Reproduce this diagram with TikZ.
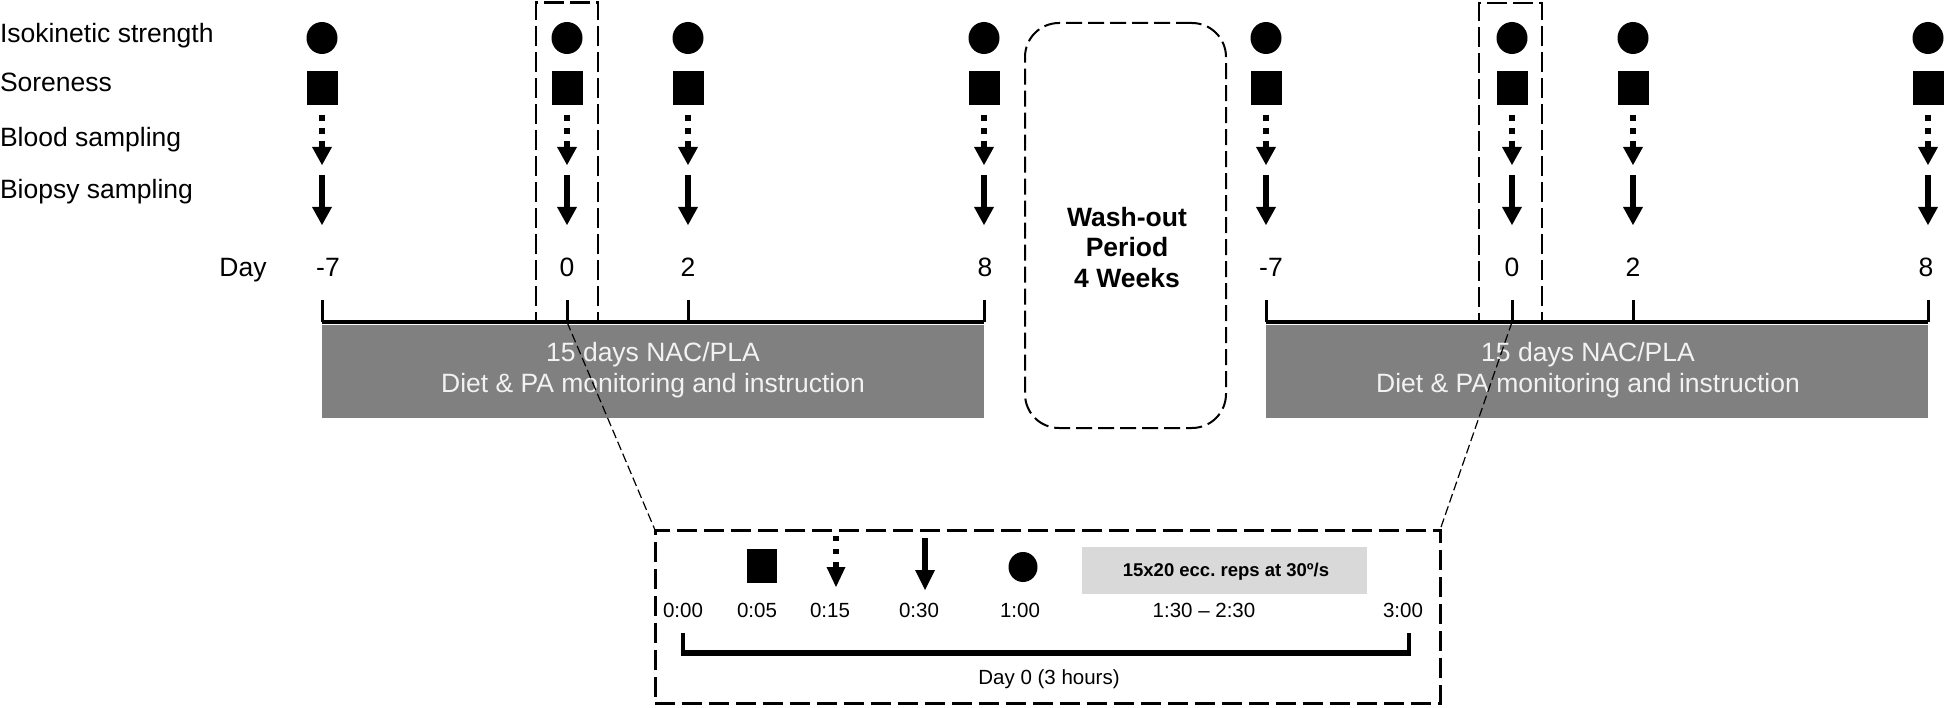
\documentclass[tikz,border=0pt]{standalone}
\usepackage{fontspec}
\setmainfont{Liberation Sans}
\usetikzlibrary{shapes.geometric}
\tikzset{
  bloodarr/.pic={
    \draw[line width=6pt,dash pattern=on 6pt off 7pt] (0,0) -- (0,32);
    \fill (-10,32) -- (10,32) -- (0,50) -- cycle;},
  biopsyarr/.pic={
    \draw[line width=6pt] (0,0) -- (0,33);
    \fill (-10,32) -- (10,32) -- (0,50) -- cycle;},
  sbloodarr/.pic={
    \draw[line width=6pt,dash pattern=on 5pt off 8pt] (0,0) -- (0,31);
    \fill (-9.5,31) -- (9.5,31) -- (0,51) -- cycle;},
  sbiopsyarr/.pic={
    \draw[line width=6.5pt] (0,0) -- (0,33);
    \fill (-10,32) -- (10,32) -- (0,52) -- cycle;}
}
\begin{document}
\begin{tikzpicture}[x=1pt,y=-1pt,
  mk/.style={fill=black,draw=none,inner sep=0pt,outer sep=0pt},
  dotmk/.style={mk,ellipse,minimum width=31pt,minimum height=32pt},
  sqmk/.style={mk,rectangle,minimum width=31pt,minimum height=34pt},
  sdotmk/.style={mk,ellipse,minimum width=29pt,minimum height=30pt},
  ssqmk/.style={mk,rectangle,minimum width=30pt,minimum height=34pt},
  big/.style={font=\fontsize{26.5}{31}\selectfont,inner sep=0pt,outer sep=0pt},
  small/.style={font=\fontsize{20.5}{24}\selectfont,inner sep=0pt,outer sep=0pt,anchor=base},
  rowlbl/.style={big,anchor=base west},
  daylbl/.style={big,anchor=base},
  graybar/.style={rectangle,fill=black!50,draw=none,inner sep=0pt,outer sep=0pt},
  bartext/.style={big,anchor=base,text=black!5},
  zoombox/.style={rectangle,draw,line width=2.7pt,dash pattern=on 20pt off 6pt,inner sep=0pt,outer sep=0pt},
  washbox/.style={rectangle,draw,line width=2pt,dash pattern=on 16pt off 6pt,rounded corners=34pt,inner sep=0pt,outer sep=0pt},
  detailbox/.style={rectangle,draw,line width=3pt,dash pattern=on 20pt off 7pt,inner sep=0pt,outer sep=0pt},
  conn/.style={line width=1.2pt,dash pattern=on 9pt off 4pt},
  axis/.style={line width=4pt},
  tick/.style={line width=3pt},
]
\useasboundingbox (0,0) rectangle (1946,708);

% row labels
\node[rowlbl] (lIso) at (0,43) {Isokinetic strength};
\node[rowlbl] (lSor) at (0,92) {Soreness};
\node[rowlbl] (lBlo) at (0,147) {Blood sampling};
\node[rowlbl] (lBio) at (0,199) {Biopsy sampling};
\node[daylbl] (lDay) at (243,277) {Day};

% gray bars
\node[graybar,minimum width=662pt,minimum height=93pt] (gbL) at (653,371.5) {};
\node[graybar,minimum width=662pt,minimum height=93pt] (gbR) at (1597,371.5) {};
\node[bartext] (gbLa) at (653,362) {15 days NAC/PLA};
\node[bartext] (gbLb) at (653,392) {Diet \& PA monitoring and instruction};
\node[bartext] (gbRa) at (1588,362) {15 days NAC/PLA};
\node[bartext] (gbRb) at (1588,392) {Diet \& PA monitoring and instruction};

% columns
\foreach \x/\d/\n/\o in {322/-7/a/6, 567/0/b/0, 688/2/c/0, 984/8/d/1,
                         1266/-7/e/5, 1512/0/f/0, 1633/2/g/0, 1928/8/h/-2}{
  \node[dotmk] (c\n) at (\x,38) {};
  \node[sqmk] (s\n) at (\x,88) {};
  \pic at (\x,115) {bloodarr};
  \pic at (\x,175) {biopsyarr};
  \node[daylbl] (d\n) at (\x+\o,277) {\d};
  \coordinate (t\n) at (\x,300);
  \coordinate (b\n) at (\x,322);
  \draw[tick] (t\n) -- (b\n);
}
\draw[axis] (ba) -- (bd);
\draw[axis] (be) -- (bh);

% zoom boxes
\node[zoombox,minimum width=62pt,minimum height=320pt] (zbL) at (567,162.5) {};
\node[zoombox,minimum width=63pt,minimum height=318pt] (zbR) at (1510.5,162) {};

% wash-out
\node[washbox,minimum width=201pt,minimum height=405pt] (wash) at (1125.5,225.5) {};
\node[big,font=\fontsize{26.5}{31}\selectfont\bfseries,anchor=base] (w1) at (1127,227) {Wash-out};
\node[big,font=\fontsize{26.5}{31}\selectfont\bfseries,anchor=base] (w2) at (1127,257) {Period};
\node[big,font=\fontsize{26.5}{31}\selectfont\bfseries,anchor=base] (w3) at (1127,288) {4 Weeks};

% detail box
\node[detailbox,minimum width=785pt,minimum height=173pt,anchor=north west] (bbox) at (655,530) {};
\draw[conn] (bb) -- (bbox.north west);
\draw[conn] (bf) -- (bbox.north east);

\node[ssqmk] (q05) at (762,566) {};
\pic at (836,536) {sbloodarr};
\pic at (925,538) {sbiopsyarr};
\node[sdotmk] (q100) at (1023,567) {};
\node[rectangle,fill=black!15,inner sep=0pt,minimum width=285pt,minimum height=47pt] (ecc) at (1224.5,570.5) {};
\node[font=\fontsize{18.5}{22}\selectfont\bfseries,inner sep=0pt,anchor=base] (ecct) at (1226,576) {15x20 ecc.\ reps at 30º/s};

\node[small] (t000) at (683,617) {0:00};
\node[small] (t005) at (757,617) {0:05};
\node[small] (t015) at (830,617) {0:15};
\node[small] (t030) at (919,617) {0:30};
\node[small] (t100) at (1020,617) {1:00};
\node[small] (t130) at (1204,617) {1:30 – 2:30};
\node[small] (t300) at (1403,617) {3:00};

\coordinate (ax0) at (683,653);
\coordinate (ax1) at (1409,653);
\coordinate (ax0t) at (683,633);
\coordinate (ax1t) at (1409,633);
\draw[line width=6pt] (ax0) -- (ax1);
\draw[line width=4pt] (ax0t) -- ([yshift=-3pt]ax0);
\draw[line width=4pt] (ax1t) -- ([yshift=-3pt]ax1);
\node[small] (day0) at (1049,684) {Day 0 (3 hours)};
\end{tikzpicture}
\end{document}
